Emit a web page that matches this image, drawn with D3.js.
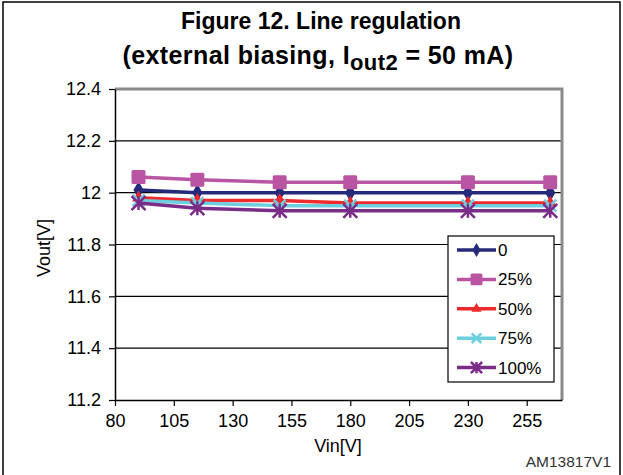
<!DOCTYPE html>
<html>
<head>
<meta charset="utf-8">
<script src="https://cdn.jsdelivr.net/npm/d3@7"></script>
<style>
  html, body { margin: 0; padding: 0; background: #fff; }
  svg { display: block; font-family: "Liberation Sans", Arial, sans-serif; }
</style>
</head>
<body>
<svg id="chart" width="623" height="475"></svg>
<script>
// Input voltage sample points (V)
const vin = [90, 115, 150, 180, 230, 265];

// Output voltage per load level (V)
const load0   = [12.01, 12.00, 12.00, 12.00, 12.00, 12.00];
const load25  = [12.06, 12.05, 12.04, 12.04, 12.04, 12.04];
const load50  = [11.98, 11.97, 11.97, 11.96, 11.96, 11.96];
const load75  = [11.97, 11.96, 11.95, 11.95, 11.95, 11.95];
const load100 = [11.96, 11.94, 11.93, 11.93, 11.93, 11.93];

const seriesNames = ["0", "25%", "50%", "75%", "100%"];
const xTicks = [80, 105, 130, 155, 180, 205, 230, 255];
const yTicks = [11.2, 11.4, 11.6, 11.8, 12.0, 12.2, 12.4];

const series = [
  { name: seriesNames[0], values: load0,   color: "#262A7A", marker: "diamond" },
  { name: seriesNames[1], values: load25,  color: "#BA55A3", marker: "square" },
  { name: seriesNames[2], values: load50,  color: "#EE2A2D", marker: "triangle" },
  { name: seriesNames[3], values: load75,  color: "#6DCEDE", marker: "cross" },
  { name: seriesNames[4], values: load100, color: "#7B2C86", marker: "star" }
];

const svg = d3.select("#chart");
const W = 623, H = 475;
const plot = { left: 115, right: 562, top: 89, bottom: 400 };
const labelFont = "Liberation Sans, Arial, sans-serif";

// Outer frame (left, top, right)
svg.append("path")
  .attr("d", `M3,${H} L3,2 L620,2 L620,${H}`)
  .attr("fill", "none").attr("stroke", "#000").attr("stroke-width", 1.5);

// Title
const title = svg.append("g").attr("font-weight", "bold").attr("text-anchor", "middle").attr("fill", "#000");
title.append("text").attr("x", 321).attr("y", 29).attr("font-size", 23).text("Figure 12. Line regulation");
const t2 = title.append("text").attr("x", 318).attr("y", 64).attr("font-size", 25)
  .attr("letter-spacing", 0.4);
t2.append("tspan").text("(external biasing, I");
t2.append("tspan").attr("font-size", 22).attr("dy", 6).text("out2");
t2.append("tspan").attr("dy", -6).text(" = 50 mA)");

const x = d3.scaleLinear().domain([80, 270]).range([plot.left, plot.right]);
const y = d3.scaleLinear().domain([11.2, 12.4]).range([plot.bottom, plot.top]);

// Horizontal gridlines
svg.append("g").selectAll("line")
  .data(yTicks.filter(v => v > 11.2 && v < 12.4))
  .join("line")
  .attr("x1", plot.left).attr("x2", plot.right)
  .attr("y1", d => y(d)).attr("y2", d => y(d))
  .attr("stroke", "#000").attr("stroke-width", 1.2);

// Plot frame: grey top and right edges
svg.append("path")
  .attr("d", `M${plot.left},${plot.top} L${plot.right},${plot.top} L${plot.right},${plot.bottom}`)
  .attr("fill", "none").attr("stroke", "#8a8a8a").attr("stroke-width", 3);

// Axes
const yAxis = d3.axisLeft(y).tickValues(yTicks)
  .tickFormat(d => d3.format("")(+d.toFixed(1)))
  .tickSizeInner(6).tickSizeOuter(0).tickPadding(8);
const gy = svg.append("g").attr("transform", `translate(${plot.left},0)`).call(yAxis);
gy.select(".domain").attr("stroke", "#000").attr("stroke-width", 1.5);
gy.selectAll(".tick line").attr("stroke", "#000").attr("stroke-width", 1.2);
gy.selectAll(".tick text").attr("font-size", 18).attr("fill", "#000").attr("font-family", labelFont);

const xAxis = d3.axisBottom(x).tickValues(xTicks)
  .tickSizeInner(6).tickSizeOuter(0).tickPadding(8);
const gx = svg.append("g").attr("transform", `translate(0,${plot.bottom})`).call(xAxis);
gx.select(".domain").attr("stroke", "#000").attr("stroke-width", 1.5);
gx.selectAll(".tick line").attr("stroke", "#000").attr("stroke-width", 1.2);
gx.selectAll(".tick text").attr("font-size", 18).attr("fill", "#000").attr("font-family", labelFont);

// Axis titles
svg.append("text").attr("x", 338).attr("y", 452).attr("text-anchor", "middle")
  .attr("font-size", 18).text("Vin[V]");
svg.append("text").attr("transform", "translate(50,248) rotate(-90)")
  .attr("text-anchor", "middle").attr("font-size", 18).text("Vout[V]");

// Figure code
svg.append("text").attr("x", 611).attr("y", 467).attr("text-anchor", "end")
  .attr("font-size", 15.5).attr("fill", "#333").text("AM13817V1");

// Marker drawing
function drawMarker(g, type, color, cx, cy, s) {
  s = s || 1;
  if (type === "diamond") {
    g.append("path").attr("d", d3.symbol(d3.symbolDiamond, 90 * s * s)())
      .attr("transform", `translate(${cx},${cy})`).attr("fill", color);
  } else if (type === "square") {
    const a = 14 * s;
    g.append("rect").attr("x", cx - a / 2).attr("y", cy - a / 2).attr("width", a).attr("height", a)
      .attr("rx", 1.5).attr("fill", color);
  } else if (type === "triangle") {
    g.append("path").attr("d", d3.symbol(d3.symbolTriangle, 70 * s * s)())
      .attr("transform", `translate(${cx},${cy})`).attr("fill", color);
  } else if (type === "cross") {
    const r = 6 * s;
    g.append("path").attr("d", `M${cx - r},${cy - r}L${cx + r},${cy + r}M${cx - r},${cy + r}L${cx + r},${cy - r}`)
      .attr("stroke", color).attr("stroke-width", 2.5).attr("fill", "none");
  } else if (type === "star") {
    const r = 7 * s;
    g.append("path").attr("d",
      `M${cx - r},${cy - r}L${cx + r},${cy + r}M${cx - r},${cy + r}L${cx + r},${cy - r}M${cx},${cy - r}L${cx},${cy + r}`)
      .attr("stroke", color).attr("stroke-width", 2.5).attr("fill", "none");
  }
}

// Series lines and markers
const line = d3.line().x((d, i) => x(vin[i])).y(d => y(d));
const gs = svg.append("g");
series.forEach(s => {
  const g = gs.append("g");
  g.append("path").datum(s.values).attr("d", line)
    .attr("fill", "none").attr("stroke", s.color).attr("stroke-width", 3.5)
    .attr("stroke-linejoin", "round");
  s.values.forEach((v, i) => drawMarker(g, s.marker, s.color, x(vin[i]), y(v)));
});

// Legend
const leg = { x: 448, y: 236, w: 106, h: 146 };
const gl = svg.append("g");
gl.append("rect").attr("x", leg.x).attr("y", leg.y).attr("width", leg.w).attr("height", leg.h)
  .attr("fill", "#fff").attr("stroke", "#000").attr("stroke-width", 1.2);
series.forEach((s, i) => {
  const ly = 250 + i * 29.4;
  gl.append("line").attr("x1", 457).attr("x2", 496).attr("y1", ly).attr("y2", ly)
    .attr("stroke", s.color).attr("stroke-width", 3.5);
  drawMarker(gl, s.marker, s.color, 476.5, ly, s.marker === "square" ? 0.85 : 0.8);
  gl.append("text").attr("x", 498).attr("y", ly + 6).attr("font-size", 17).text(s.name);
});
</script>
</body>
</html>
